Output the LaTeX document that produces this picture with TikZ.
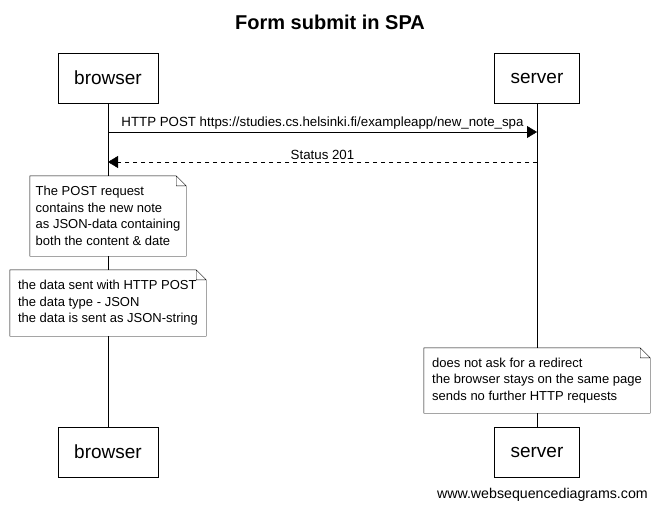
\documentclass[tikz,border=0pt]{standalone}
\usepackage{fontspec}
\setmainfont{Liberation Sans}
\usetikzlibrary{arrows.meta}
\usetikzlibrary{calc}

\tikzset{
	actor/.style={draw, fill=white, minimum height=50pt, inner xsep=16pt, font=\fontsize{19}{22}\selectfont},
	note/.style={fill=white, align=left, inner sep=0pt, font=\fontsize{13}{16.5}\selectfont},
	msg/.style={-{Triangle[length=10pt,width=12pt]}},
	reply/.style={msg, dash pattern=on 4pt off 4pt},
	label/.style={midway, above, inner sep=2.5pt, font=\fontsize{13.3}{16}\selectfont},
}
% note outline with the folded corner (y grows downwards)
\newcommand{\noteframe}[1]{%
	\draw (#1.south west) -- (#1.south east) -- ($(#1.north east)+(0,10)$)
		-- ($(#1.north east)+(-10,0)$) -- (#1.north west) -- cycle
		($(#1.north east)+(-10,0)$) |- ($(#1.north east)+(0,10)$);}

\begin{document}
\begin{tikzpicture}[x=1pt, y=-1pt]
	\useasboundingbox (0,0) rectangle (657,511);
	\node[font=\bfseries\fontsize{20}{24}\selectfont] (title) at (330,22) {Form submit in SPA};

	\node[actor] (bt) at (108,78) {browser};
	\node[actor] (st) at (537,78) {server};
	\node[actor] (bb) at (108,452) {browser};
	\node[actor] (sb) at (537,452) {server};
	\draw (bt) -- (bb) (st) -- (sb);

	\draw[msg] (bt.south |- 0,132) -- (st.south |- 0,132)
		node[label] {HTTP POST https://studies.cs.helsinki.fi/exampleapp/new\_note\_spa};
	\draw[reply] (st.south |- 0,162) -- (bt.south |- 0,162)
		node[label] {Status 201};

	\node[note, minimum width=156pt, minimum height=80pt] (n1) at (108,216)
		{The POST request\\contains the new note\\as JSON-data containing\\both the content \& date};
	\noteframe{n1}
	\node[note, minimum width=196pt, minimum height=66pt] (n2) at (108,303)
		{the data sent with HTTP POST\\the data type - JSON\\the data is sent as JSON-string};
	\noteframe{n2}
	\node[note, minimum width=226pt, minimum height=65pt] (n3) at (537,380.5)
		{does not ask for a redirect\\the browser stays on the same page\\sends no further HTTP requests};
	\noteframe{n3}

	\node[anchor=east, inner sep=0pt, font=\fontsize{14.2}{17}\selectfont] (credit) at (648,495) {www.websequencediagrams.com};
\end{tikzpicture}
\end{document}
